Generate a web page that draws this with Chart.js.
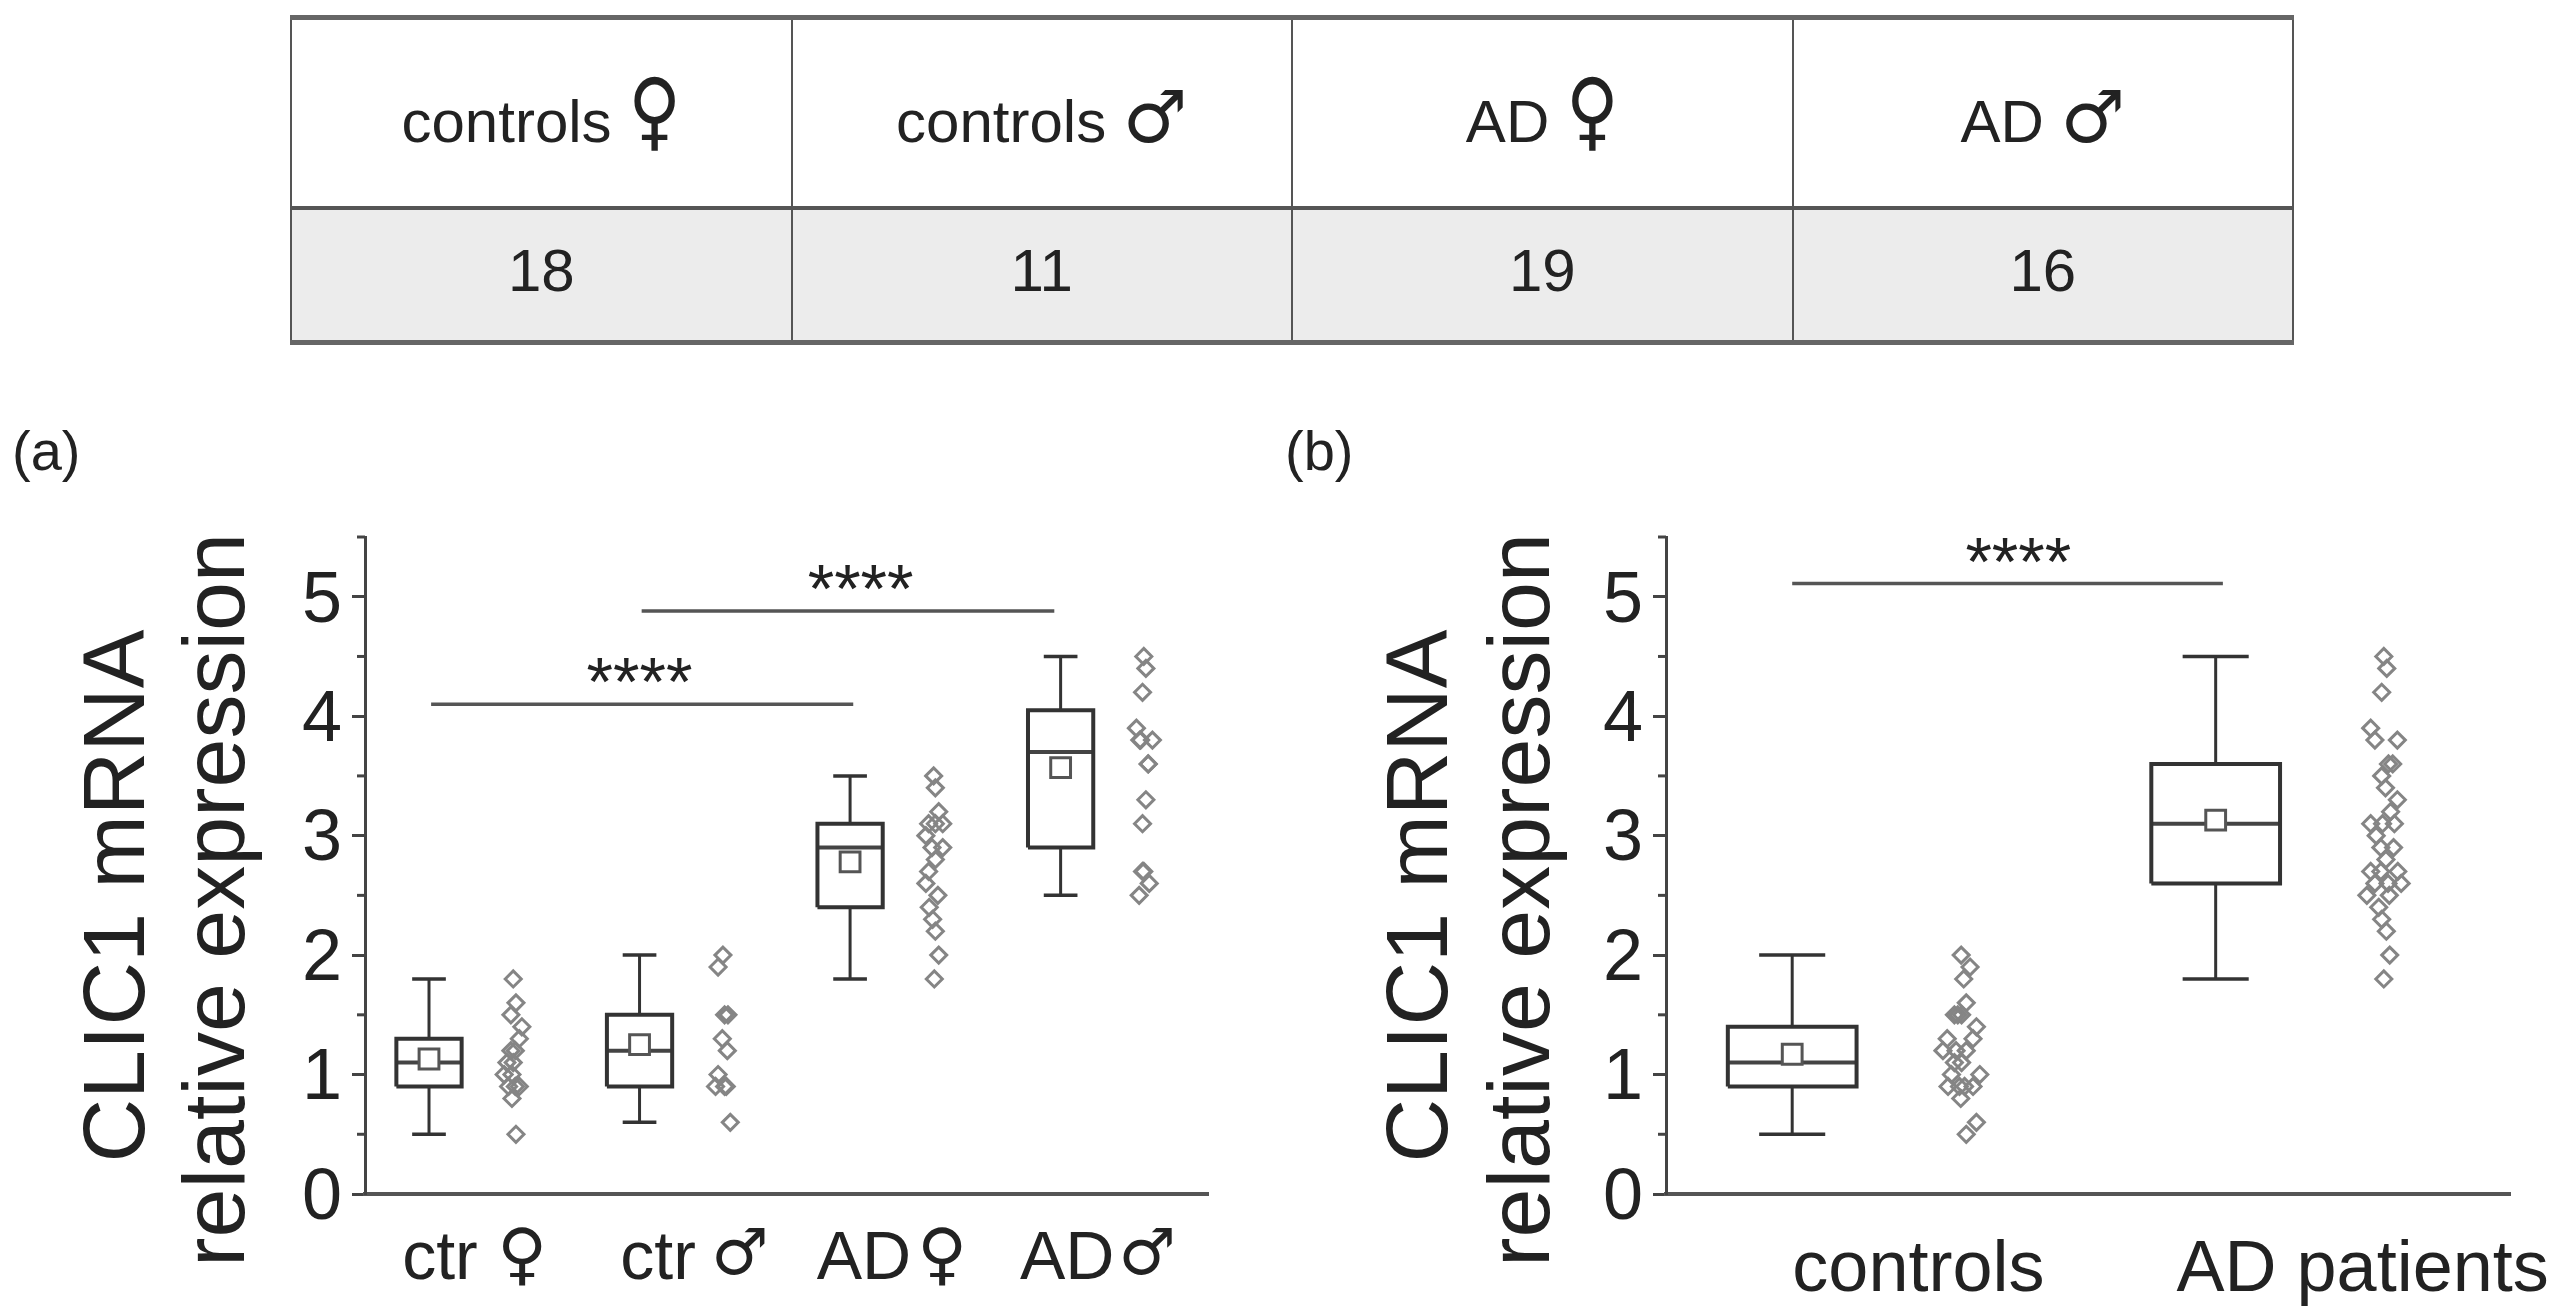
<!DOCTYPE html>
<html>
<head>
<meta charset="utf-8">
<title>CLIC1 mRNA relative expression</title>
<script src="https://cdn.jsdelivr.net/npm/chart.js@4"></script>
<style>
  html,body{margin:0;padding:0;background:#fff;width:2561px;height:1315px;overflow:hidden;font-family:"Liberation Sans","DejaVu Sans",sans-serif;color:#222}
  canvas{position:absolute;top:520px}
  #chartA{left:0}
  #chartB{left:1280px}
  table{position:absolute;left:290px;top:15px;width:2004px;height:330px;border-collapse:collapse;table-layout:fixed;font-size:60px;text-align:center}
  th,td{border:2px solid #555;font-weight:normal;padding:0}
  tr:first-child th{height:190px;border-top:5px solid #666;border-bottom:4px solid #555;padding-top:12px;box-sizing:border-box}
  td{background:#ececec;border-bottom:5px solid #666;padding-bottom:8px}
  .sym{font-size:72px;font-family:"DejaVu Sans";line-height:1;display:inline-block}
  .female{transform:scaleY(1.2) translateY(-6px)}
  .panel{position:absolute;font-size:56px;top:418px}
</style>
</head>
<body>
<table id="counts"><tr id="headRow"></tr><tr id="countRow"></tr></table>
<div class="panel" style="left:12px">(a)</div>
<div class="panel" style="left:1285px">(b)</div>
<canvas id="chartA" width="1260" height="795"></canvas>
<canvas id="chartB" width="1281" height="795"></canvas>
<script>
// table
const tableHeads = ["controls", "controls", "AD", "AD"];
const tableSyms = ["♀", "♂", "♀", "♂"];
const tableCounts = [18, 11, 19, 16];

// panel (a) boxes, text and sex symbols are separate ticks so they can use different fonts
const labelsA = ["ctr", "♀", "ctr", "♂", "AD", "♀", "AD", "♂"];
const labelPosA = [1.052, 1.442, 2.088, 2.477, 3.066, 3.437, 4.031, 4.411];
const lowA = [0.5, 0.6, 1.8, 2.5];
const q1A = [0.9, 0.9, 2.4, 2.9];
const medA = [1.1, 1.2, 2.9, 3.7];
const q3A = [1.3, 1.5, 3.1, 4.05];
const highA = [1.8, 2.0, 3.5, 4.5];
const meanA = [1.13, 1.25, 2.78, 3.57];

// panel (a) raw points, jitter is in category units
const ctrF = [1.8, 1.6, 1.5, 1.4, 1.3, 1.2, 1.2, 1.1, 1.1, 1.0, 1.0, 0.9, 0.9, 0.9, 0.8, 0.5];
const ctrFJitter = [0, .013, -.011, .041, .029, .01, -.011, -.03, 0, -.043, -.006, -.022, .029, .01, -.006, .013];
const ctrM = [2.0, 1.9, 1.5, 1.5, 1.3, 1.2, 1.0, 0.9, 0.9, 0.9, 0.6];
const ctrMJitter = [.006, -.017, .014, .03, .003, .027, -.017, -.029, .022, .014, .041];
const adF = [3.5, 3.4, 3.2, 3.1, 3.1, 3.1, 3.0, 2.9, 2.9, 2.8, 2.7, 2.6, 2.5, 2.4, 2.3, 2.2, 2.0, 1.8];
const adFJitter = [-.003, .005, .021, -.027, .04, .005, -.04, -.011, .04, .005, -.027, -.04, .017, -.024, -.008, .005, .021, 0];
const adM = [4.5, 4.4, 4.2, 3.9, 3.8, 3.8, 3.8, 3.6, 3.6, 3.3, 3.1, 2.7, 2.7, 2.6, 2.5];
const adMJitter = [-.005, .005, -.011, -.04, -.024, .036, -.02, .016, .016, .005, -.011, -.005, -.011, .021, -.027];

// panel (b) boxes
const labelsB = ["controls", "AD patients"];
const labelPosB = [1.298, 2.347];
const lowB = [0.5, 1.8];
const q1B = [0.9, 2.6];
const medB = [1.1, 3.1];
const q3B = [1.4, 3.6];
const highB = [2.0, 4.5];
const meanB = [1.17, 3.13];

// panel (b) raw points
const controls = [2.0, 1.9, 1.8, 1.6, 1.5, 1.5, 1.5, 1.4, 1.3, 1.3, 1.2, 1.2, 1.2, 1.1, 1.1, 1.0, 1.0, 0.9, 0.9, 0.9, 0.9, 0.8, 0.6, 0.5];
const controlsJitter = [-.001, .02, .005, .011, -.017, 0, -.009, .035, -.034, .027, -.044, .011, -.013, -.017, 0, -.024, .043, -.032, .027, -.005, .007, -.002, .035, .011];
const patients = [4.5, 4.4, 4.2, 3.9, 3.8, 3.8, 3.6, 3.6, 3.5, 3.4, 3.3, 3.2, 3.1, 3.1, 3.1, 3.0, 2.9, 2.9, 2.8, 2.7, 2.7, 2.7, 2.6, 2.6, 2.6, 2.5, 2.5, 2.4, 2.3, 2.2, 2.0, 1.8];
const patientsJitter = [-.003, .004, -.008, -.034, -.024, .029, .018, .008, -.008, .001, .029, .013, -.034, .022, -.006, -.021, -.01, .02, .002, -.034, .03, -.01, -.024, .038, .007, -.043, .01, -.015, -.008, .003, .011, -.003];

// significance bars [from, to, height]
const sigA = [[1.01, 3.015, 4.1], [2.01, 3.97, 4.88]];
const sigStarsA = [2.0, 3.05];
const sigB = [[1.0, 2.017, 5.11]];
const sigStarsB = [1.534];

const FONT = "'Liberation Sans','DejaVu Sans',sans-serif";
const SYM_SIZE = {"♀": 68, "♂": 64};

document.getElementById("headRow").innerHTML = tableHeads.map((h, i) =>
  `<th>${h} <span class="sym ${tableSyms[i] === "♀" ? "female" : ""}">${tableSyms[i]}</span></th>`).join("");
document.getElementById("countRow").innerHTML = tableCounts.map(c => `<td>${c}</td>`).join("");

function lineSet(points, width, color){
  return {type: "scatter", data: points, showLine: true, pointRadius: 0, borderWidth: width, borderColor: color, order: 2};
}

function boxSets(low, q1, med, q3, high, mean, boxW, capW){
  const sets = [];
  low.forEach((v, i) => {
    const x = i + 1;
    sets.push(lineSet([{x, y: q3[i]}, {x, y: high[i]}], 3, "#333"));
    sets.push(lineSet([{x, y: low[i]}, {x, y: q1[i]}], 3, "#333"));
    sets.push(lineSet([{x: x - capW, y: high[i]}, {x: x + capW, y: high[i]}], 3.5, "#333"));
    sets.push(lineSet([{x: x - capW, y: low[i]}, {x: x + capW, y: low[i]}], 3.5, "#333"));
    sets.push(lineSet([{x: x - boxW, y: q1[i]}, {x: x + boxW, y: q1[i]}, {x: x + boxW, y: q3[i]}, {x: x - boxW, y: q3[i]}, {x: x - boxW, y: q1[i]}], 4, "#333"));
    sets.push(lineSet([{x: x - boxW, y: med[i]}, {x: x + boxW, y: med[i]}], 4, "#444"));
  });
  sets.push({type: "scatter", data: mean.map((y, i) => ({x: i + 1, y})), pointStyle: "rect", pointRadius: 14, borderWidth: 3, borderColor: "#555", backgroundColor: "#fff", order: 1});
  return sets;
}

function pointSet(values, jitter, column){
  return {type: "scatter", data: values.map((y, i) => ({x: column + jitter[i], y})), pointStyle: "rectRot", pointRadius: 8, borderWidth: 3, borderColor: "#858585", backgroundColor: "transparent", order: 3};
}

// minor ticks, stars and the two line y title
const extras = {
  id: "extras",
  afterDraw(chart, args, opts){
    const c = chart.ctx, x = chart.scales.x, y = chart.scales.y;
    c.save();
    c.strokeStyle = "#444";
    c.lineWidth = 3;
    y.ticks.forEach(t => {
      if (Number.isInteger(t.value)) return;
      const py = y.getPixelForValue(t.value);
      c.beginPath(); c.moveTo(x.left - 8, py); c.lineTo(x.left, py); c.stroke();
    });
    c.fillStyle = "#222";
    c.textAlign = "center";
    c.textBaseline = "alphabetic";
    c.font = "68px " + FONT;
    opts.stars.forEach((sx, i) => c.fillText("****", x.getPixelForValue(sx), y.getPixelForValue(opts.bars[i][2]) + 1));
    c.font = "88px " + FONT;
    opts.title.forEach((t, i) => {
      c.save();
      c.translate(opts.titleX[i], opts.titleY[i]);
      c.rotate(-Math.PI / 2);
      c.fillText(t, 0, 0);
      c.restore();
    });
    c.restore();
  }
};

function mkChart(id, sets, o){
  o.bars.forEach(b => sets.push(lineSet([{x: b[0], y: b[2]}, {x: b[1], y: b[2]}], 3.5, "#555")));
  const sym = c => SYM_SIZE[o.labels[c.index]];
  return new Chart(document.getElementById(id), {
    data: {datasets: sets},
    plugins: [extras],
    options: {
      responsive: false,
      animation: false,
      layout: {padding: o.padding},
      plugins: {
        legend: {display: false},
        tooltip: {enabled: false},
        extras: {stars: o.stars, bars: o.bars, title: ["CLIC1 mRNA", "relative expression"], titleX: o.titleX, titleY: [376, 380]}
      },
      scales: {
        x: {
          type: "linear", min: o.xMin, max: o.xMax,
          grid: {display: false, drawTicks: false},
          border: {color: "#555", width: 4},
          afterBuildTicks: a => { a.ticks = o.tickPos.map(value => ({value})); },
          afterFit: s => { s.height = 121; s.paddingLeft = 0; s.paddingRight = 0; },
          ticks: {autoSkip: false, maxRotation: 0, padding: o.labelPad, color: "#222",
            font: c => ({family: sym(c) ? "'DejaVu Sans'" : FONT, size: sym(c) || o.labelSize}),
            callback: (v, i) => o.labels[i]}
        },
        y: {
          type: "linear", min: 0, max: 5.5,
          grid: {drawOnChartArea: false, tickLength: 13, tickWidth: 3, tickColor: c => Number.isInteger(c.tick.value) ? "#444" : "transparent"},
          border: {color: "#444", width: 3},
          afterFit: s => { s.width = o.axisX; s.paddingTop = 0; s.paddingBottom = 0; },
          // empty first line with a small line height nudges the digits down a little
          ticks: {stepSize: 0.5, autoSkip: false, padding: 10, color: "#222", font: {family: FONT, size: 72, lineHeight: "10px"},
            callback: v => Number.isInteger(v) ? ["", String(v)] : ""}
        }
      }
    }
  });
}

// panel a: 210.5 px per category, panel b: 423 px per category
mkChart("chartA", [
  ...boxSets(lowA, q1A, medA, q3A, highA, meanA, 0.155, 0.08),
  pointSet(ctrF, ctrFJitter, 1.4), pointSet(ctrM, ctrMJitter, 2.39),
  pointSet(adF, adFJitter, 3.4), pointSet(adM, adMJitter, 4.4)
], {padding: {left: 0, top: 16, right: 52, bottom: 0}, axisX: 365, xMin: 0.696, xMax: 4.70,
  tickPos: labelPosA, labels: labelsA, labelSize: 68, labelPad: 25, bars: sigA, stars: sigStarsA, titleX: [144, 244]});

mkChart("chartB", [
  ...boxSets(lowB, q1B, medB, q3B, highB, meanB, 0.152, 0.078),
  pointSet(controls, controlsJitter, 1.4), pointSet(patients, patientsJitter, 2.4)
], {padding: {left: 0, top: 16, right: 51, bottom: 0}, axisX: 386, xMin: 0.702, xMax: 2.695,
  tickPos: labelPosB, labels: labelsB, labelSize: 72, labelPad: 34, bars: sigB, stars: sigStarsB, titleX: [167, 269]});
</script>
</body>
</html>
